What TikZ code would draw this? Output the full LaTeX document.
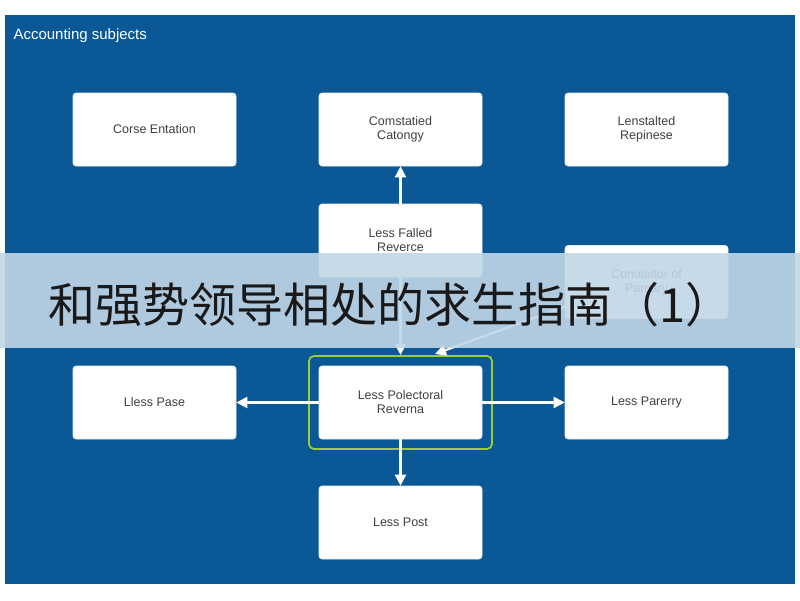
\documentclass[tikz,border=0pt]{standalone}
\usepackage{fontspec}
\setmainfont{Liberation Sans}
\newfontfamily\cjk{Noto Sans CJK SC}
\usetikzlibrary{arrows.meta}
\definecolor{panel}{HTML}{0A5896}
\definecolor{band}{HTML}{C2D6E6}
\definecolor{hl}{HTML}{9CCB3C}
\begin{document}
\begin{tikzpicture}[x=1pt,y=-1pt,
  box/.style={draw=white!85!gray,line width=0.6pt,fill=white,rounded corners=3pt,minimum width=163pt,minimum height=73pt,align=center,font=\fontsize{12.5}{14}\selectfont,text=black!75,inner sep=0pt},
  arr/.style={draw=white,line width=2.2pt,-{Triangle[length=11pt,width=11pt]}}]
\useasboundingbox (0,0) rectangle (800,600);
\fill[white] (0,0) rectangle (800,600);
\fill[panel] (5,15) rectangle (795,584);
\node[anchor=west,text=white,font=\fontsize{15}{17}\selectfont] (title) at (10,36) {Accounting subjects};
\node[box] (ce) at (154.5,129.5) {Corse Entation};
\node[box] (cc) at (400.5,129.5) {Comstatied\\Catongy};
\node[box] (lr) at (646.5,129.5) {Lenstalted\\Repinese};
\node[box] (lf) at (400.5,240.5) {Less Falled\\Reverce};
\node[box] (co) at (646.5,282) {Conolaitor of\\Parcary};
\node[box] (lp) at (154.5,402.5) {Lless Pase};
\node[box] (lc) at (400.5,402.5) {Less Polectoral\\Reverna};
\node[box] (la) at (646.5,402.5) {Less Parerry};
\node[box] (lo) at (400.5,522.5) {Less Post};
\draw[hl,line width=1.8pt,rounded corners=5pt] (309,356) rectangle (492,449);
\coordinate (gt) at (400.5,355);
\coordinate (gd) at (435,354);
\draw[arr] (lf.north) -- (cc.south);
\draw[arr] (lf.south) -- (gt);
\draw[arr] (co.south west) ++(0,-12) coordinate (cs) (cs) -- (gd);
\draw[arr] (lc.west) -- (lp.east);
\draw[arr] (lc.east) -- (la.west);
\draw[arr] (lc.south) -- (lo.north);
\fill[band,opacity=0.9] (0,253) rectangle (800,348);
\node[anchor=west,font=\cjk\fontsize{47}{50}\selectfont,text=black!90,inner sep=0pt] (zh) at (48,305) {和强势领导相处的求生指南（1）};
\end{tikzpicture}
\end{document}
